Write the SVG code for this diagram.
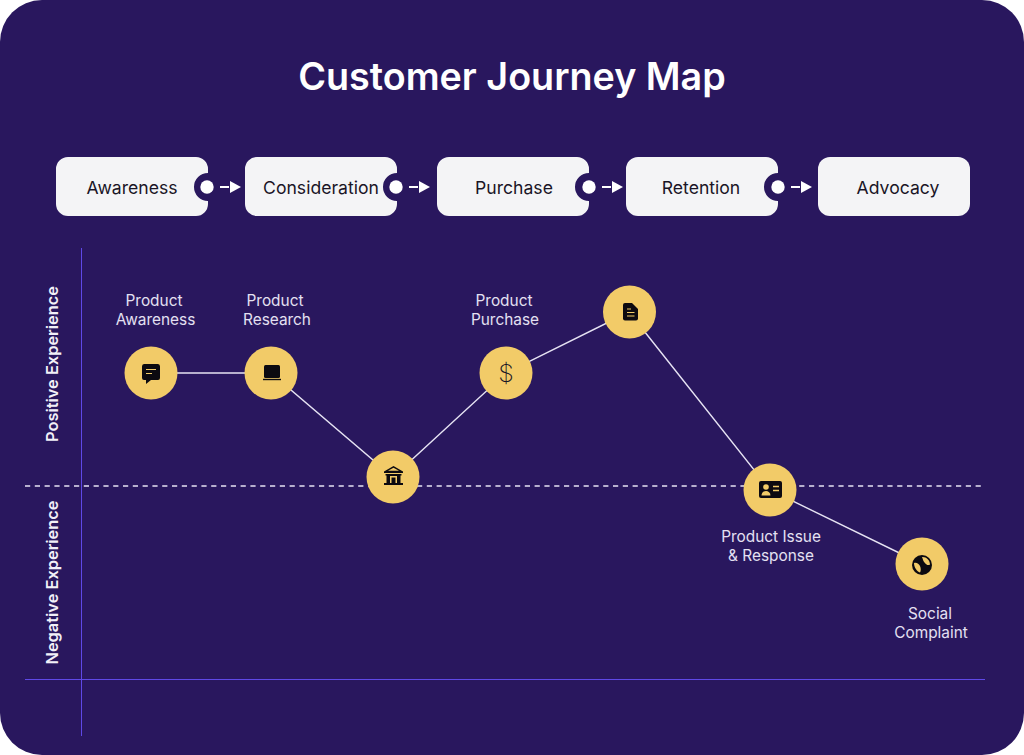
<svg xmlns="http://www.w3.org/2000/svg" width="1024" height="755" viewBox="0 0 1024 755">
<style>
.sf{font-family:"Inter","Liberation Sans",sans-serif}
.title{font-size:37.7px;font-weight:600;fill:#fff;text-anchor:middle}
.step{font-size:17.6px;fill:#1a1526;text-anchor:middle}
.lab{font-size:15.4px;fill:#e4e0f2;text-anchor:middle}
.axis{font-size:16.4px;font-weight:600;fill:#f2f0f8;text-anchor:middle}
.card{fill:#f4f4f6}
.dot{fill:#fff}
.node{fill:#f2cb68}
.ic{fill:#0c0a10}
.conn{stroke:#e6e3f3;stroke-width:1.4;fill:none}
.grid{stroke:#5f48e6;stroke-width:1;fill:none}
</style>
<defs>
<path id="ticket" class="card" d="M12 0H140A12 12 0 0 1 152 12V16A14 14 0 0 0 152 44V47A12 12 0 0 1 140 59H12A12 12 0 0 1 0 47V12A12 12 0 0 1 12 0Z"/>
<g id="arrow"><circle class="dot" cx="0" cy="0" r="6.7"/><rect class="dot" x="13" y="-1" width="9" height="2"/><path class="dot" d="M23 -6L34 0L23 6Z"/></g>
</defs>
<rect width="1024" height="755" fill="#fff"/>
<rect width="1024" height="755" rx="42" fill="#29175e"/>
<text class="sf title" x="512" y="90">Customer Journey Map</text>

<g id="grid">
<line class="grid" x1="81.500" y1="248" x2="81.500" y2="736"/>
<line class="grid" x1="25" y1="679.500" x2="985" y2="679.500"/>
<line x1="25" y1="486" x2="985" y2="486" stroke="#e6e3f3" stroke-width="1.300" stroke-dasharray="5.200 4.600"/>
</g>
<text class="sf axis" transform="translate(58 364) rotate(-90)">Positive Experience</text>
<text class="sf axis" transform="translate(58 582.500) rotate(-90)">Negative Experience</text>

<g id="stage-awareness"><use href="#ticket" x="56" y="157"/><text class="sf step" x="132" y="194">Awareness</text></g>
<g id="stage-consideration"><use href="#ticket" x="245" y="157"/><text class="sf step" x="321" y="194">Consideration</text></g>
<g id="stage-purchase"><use href="#ticket" x="437" y="157"/><text class="sf step" x="514" y="194">Purchase</text></g>
<g id="stage-retention"><use href="#ticket" x="626" y="157"/><text class="sf step" x="701" y="194">Retention</text></g>
<g id="stage-advocacy"><rect class="card" x="818" y="157" width="152" height="59" rx="12"/><text class="sf step" x="898" y="194">Advocacy</text></g>

<g id="stage-connectors">
<use href="#arrow" x="207" y="187"/>
<use href="#arrow" x="396" y="187"/>
<use href="#arrow" x="589" y="187"/>
<use href="#arrow" x="778" y="187"/>
</g>

<g id="connectors">
<polyline class="conn" points="151,373 271,373 393,477 506,373 629,312 770,490 922,564"/>
</g>

<g id="node-awareness">
<circle class="node" cx="151" cy="373" r="26.500"/>
<path class="ic" d="M144 364H158A2.500 2.500 0 0 1 160 366.500V378A2 2 0 0 1 158 380H151L146 384V380H144A2 2 0 0 1 142 378V366.500A2.500 2.500 0 0 1 144 364Z"/>
<path d="M146 369.500H156M146 373.500H152" stroke="#f2cb68" stroke-width="1.200"/>
<text class="sf lab" x="154" y="306">Product</text><text class="sf lab" x="155.500" y="325">Awareness</text>
</g>
<g id="node-research">
<circle class="node" cx="271" cy="373" r="26.500"/>
<rect class="ic" x="264" y="365" width="16" height="13" rx="1.500"/><rect class="ic" x="263" y="378.800" width="18" height="1.400"/>
<text class="sf lab" x="275" y="306">Product</text><text class="sf lab" x="277" y="325">Research</text>
</g>
<g id="node-bank">
<circle class="node" cx="393" cy="477" r="26.500"/>
<path class="ic" d="M393.500 466L403 471.500V473H384V471.500ZM393.500 467.800L388 470.800H399Z" fill-rule="evenodd"/>
<path class="ic" d="M385.500 474H401.500V475.500H400.500V483H403V485H384V483H386.500V475.500H385.500ZM390 476V483H391.500V477.500H395.500V483H397V476Z" fill-rule="evenodd"/>
</g>
<g id="node-purchase">
<circle class="node" cx="506" cy="373" r="26.500"/>
<text x="506" y="382" font-family="Inter,'Liberation Sans',sans-serif" font-size="25" font-weight="200" fill="#1a1526" text-anchor="middle">$</text>
<text class="sf lab" x="504" y="306">Product</text><text class="sf lab" x="505" y="325">Purchase</text>
</g>
<g id="node-document">
<circle class="node" cx="629.500" cy="312" r="26.500"/>
<path class="ic" d="M625 303H632L638 309V318.500A2 2 0 0 1 636 320.500H625A2 2 0 0 1 623 318.500V305A2 2 0 0 1 625 303Z"/>
<path d="M627 309H631M627 312.500H634.500M627 316H634.500" stroke="#f2cb68" stroke-width="1.200"/>
</g>
<g id="node-issue">
<circle class="node" cx="770" cy="490" r="26.500"/>
<rect class="ic" x="759" y="481" width="23" height="17" rx="2"/>
<circle cx="766" cy="487" r="2.800" fill="#f2cb68"/>
<path d="M761.500 495.500C761.500 489.500 770.500 489.500 770.500 495.500Z" fill="#f2cb68"/>
<path d="M773 486.500H779M773 490.500H779" stroke="#f2cb68" stroke-width="1.300"/>
<text class="sf lab" x="771" y="542">Product Issue</text><text class="sf lab" x="771" y="561">&amp; Response</text>
</g>
<g id="node-social">
<circle class="node" cx="922" cy="564" r="26.500"/>
<circle class="ic" cx="922" cy="565" r="10"/>
<path d="M922 557C926 556.500 930 560 930 564.500C928 566 926 564.500 924.500 562.500C923 561 923 559 922 557ZM914 563C916.500 562 919 564 920 566C921 568 921 571 920 572.500C917 571.500 914 567.500 914 563Z" fill="#f2cb68"/>
<text class="sf lab" x="930" y="619">Social</text><text class="sf lab" x="931" y="638">Complaint</text>
</g>
</svg>
